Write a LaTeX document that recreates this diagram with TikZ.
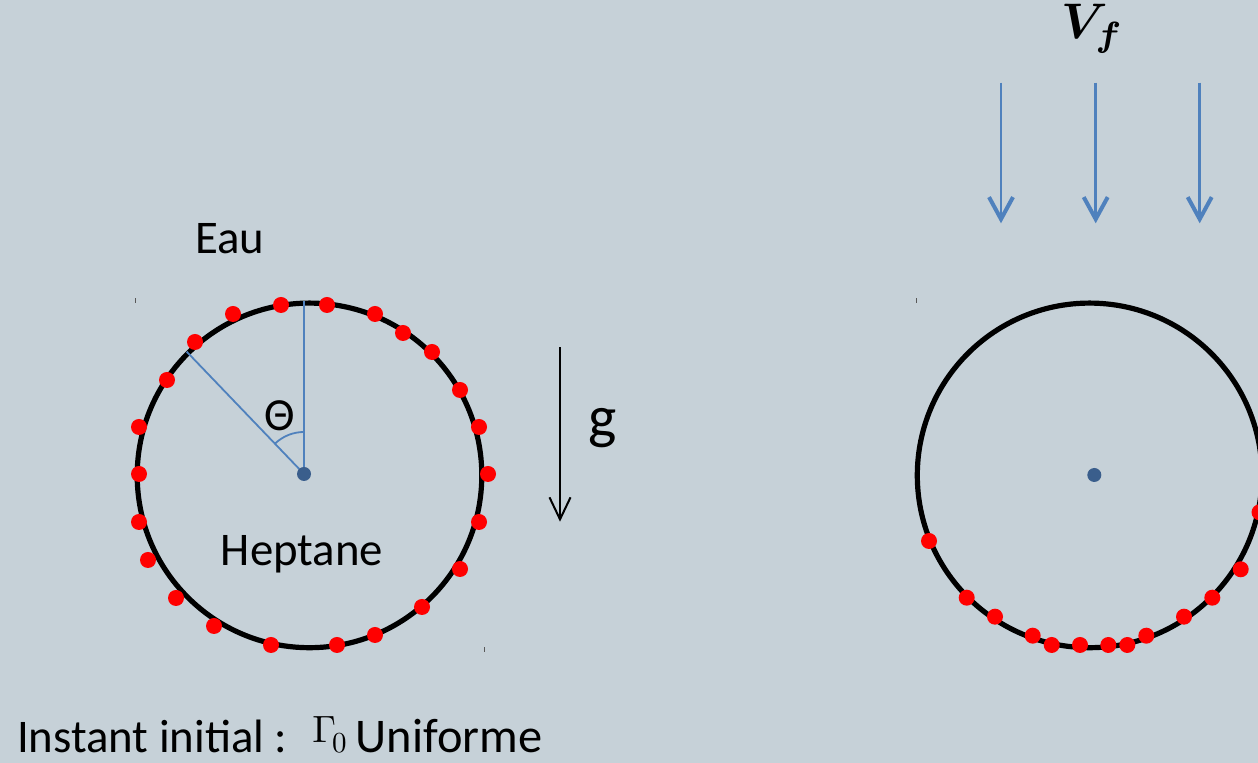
\documentclass[tikz,border=0pt]{standalone}
\usepackage[no-math]{fontspec}
\usepackage{bm}
\setmainfont{Carlito}
\usetikzlibrary{arrows.meta}
\definecolor{bgcol}{RGB}{198,209,216}
\definecolor{accent}{RGB}{79,129,189}
\definecolor{hub}{RGB}{58,94,140}
\begin{document}
\begin{tikzpicture}[x=0.5pt,y=0.5pt,
  rim/.style={draw=black, line width=2.6pt},
  marker/.style={fill=red},
  hubdot/.style={fill=hub},
  spoke/.style={draw=accent, line width=0.9pt},
  flow/.style={draw=accent, line width=1.3pt,
    -{Straight Barb[length=11pt,width=12pt,line width=2pt]}},
  gravity/.style={draw=black, line width=0.7pt,
    -{Straight Barb[length=11pt,width=10.5pt,line width=1pt]}},
  lbl/.style={inner sep=0pt, anchor=base west,
    font=\fontsize{23.4pt}{28pt}\selectfont},
  mathlbl/.style={inner sep=0pt, anchor=base west,
    font=\fontsize{10pt}{12pt}\selectfont},
  crop/.style={draw=black!65, line width=0.5pt}]
\clip (0,0) rectangle (1258,763);
\fill[bgcol] (0,0) rectangle (1258,763);

% ---- left drop: uniform surfactant at t = 0
\coordinate (lc) at (309.5,287.6);
\coordinate (lhub) at (304,289);
\coordinate (ltop) at (304,462.3);
\coordinate (lslant) at (186.7,411.3);
\draw[rim] (lc) circle[radius=172.3];
\draw[spoke] (lhub) -- (ltop);
\draw[spoke] (lhub) -- (lslant);
\draw[spoke] (lhub) ++(90:42) arc[start angle=90, end angle=134, radius=42];
\fill[hubdot] (lhub) circle[radius=7];
\foreach \x/\y in {281/458, 327/458, 233/449, 375/449, 403/430, 195/421,
                   432/411, 167/383, 460/373, 139/336, 479/336, 139/289,
                   488/289, 139/241, 479/241, 148/203, 460/194, 176/165,
                   422/156, 214/137, 375/128, 271/118, 337/118}
  \fill[marker] (\x,\y) circle[radius=8];
\draw[crop] (135,460) -- (135,465);
\draw[crop] (484.3,111) -- (484.3,116);

\node[lbl] (eau) at (195,509) {Eau};
\node[lbl] (heptane) at (220.5,197) {Heptane};
\node[inner sep=0pt, font=\fontsize{23pt}{27pt}\selectfont] (theta) at (280,347.2) {Θ};

% ---- gravity
\coordinate (gtop) at (560,415.7);
\coordinate (gbot) at (560,241.3);
\draw[gravity] (gtop) -- (gbot);
\node[inner sep=0pt, anchor=base west, font=\fontsize{30pt}{34pt}\selectfont] (glbl) at (588.5,325) {g};

% ---- right drop: surfactant swept to the rear by the flow
\coordinate (rc) at (1089.6,287.6);
\coordinate (rhub) at (1094.3,288);
\draw[rim] (rc) circle[radius=172.3];
\fill[hubdot] (rhub) circle[radius=7];
\foreach \x/\y in {929/222, 966.7/165.3, 995/146.3, 1032.7/127.3, 1051.7/118,
                   1080/118, 1108.3/118, 1127.3/118, 1146.3/127.3, 1184/146.3,
                   1212.3/165.3, 1240.7/193.7, 1259.5/250.7}
  \fill[marker] (\x,\y) circle[radius=8];
\draw[crop] (916.7,460) -- (916.7,465);

% ---- incoming flow
\coordinate (fs1) at (1001,680.3);
\coordinate (fe1) at (1001,539.7);
\coordinate (fs2) at (1095.7,680.3);
\coordinate (fe2) at (1095.7,539.7);
\coordinate (fs3) at (1199.7,680.3);
\coordinate (fe3) at (1199.7,539.7);
\draw[flow] (fs1) -- (fe1);
\draw[flow] (fs2) -- (fe2);
\draw[flow] (fs3) -- (fe3);
\node[mathlbl] (vf) at (1061,724) {\scalebox{2.5}{$\bm{V}_{\bm{f}}$}};

% ---- caption
\node[lbl] (caption) at (16.7,10.3) {Instant initial :};
\node[mathlbl] (gamma) at (312,20)
  {\scalebox{1.9}{$\Gamma$}\kern-2pt\raisebox{-5pt}{\scalebox{1.45}{$0$}}};
\node[inner sep=0pt, anchor=base west, font=\fontsize{24.2pt}{28pt}\selectfont] (uniforme) at (355.5,10.3) {Uniforme};
\end{tikzpicture}
\end{document}
